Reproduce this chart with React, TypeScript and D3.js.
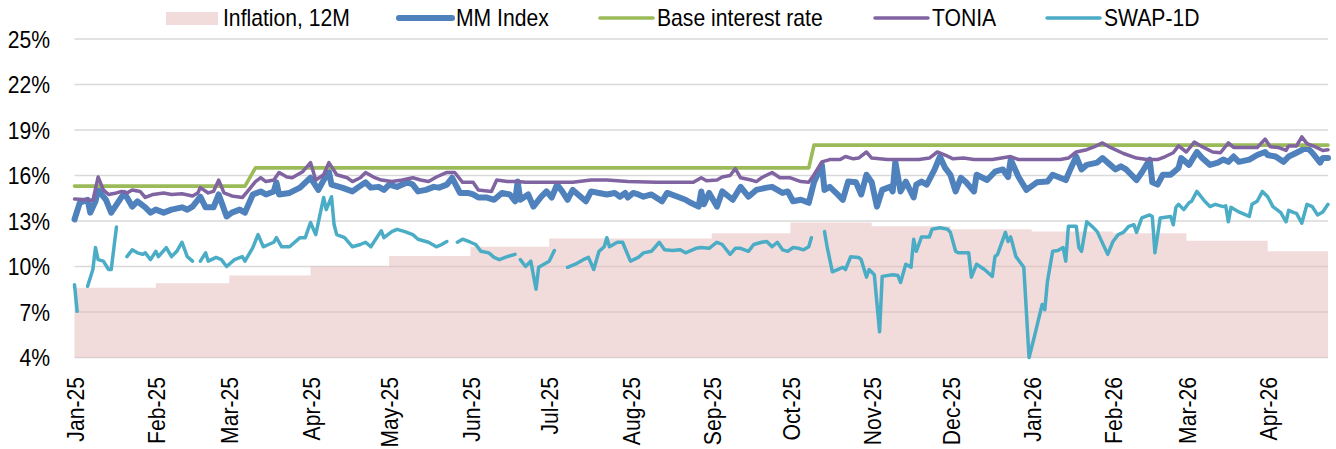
import { useEffect } from "react";
import * as d3 from "d3";

const W = 1336;
const H = 449;
const PLOT = { left: 74.5, right: 1328, top: 39, bottom: 357.5 };
const FONT = '"Liberation Sans", Arial, sans-serif';
const FONT_SIZE = 23;
const SQUEEZE = 0.92; // the source font is a little narrower than Arial

const COLORS = {
  inflation: "#e6b9b8",
  mm: "#4f81bd",
  base: "#9bbb59",
  tonia: "#8064a2",
  swap: "#4bacc6",
  grid: "#d9d9d9",
  text: "#000000",
};

const START = "2025-01-01";
const END = "2026-04-24";
const Y_TICKS = [4, 7, 10, 13, 16, 19, 22, 25];

// monthly CPI, 12M (value holds for the whole month)
const INFLATION_MONTHS = [
  "2025-01", "2025-02", "2025-03", "2025-04", "2025-05", "2025-06", "2025-07", "2025-08",
  "2025-09", "2025-10", "2025-11", "2025-12", "2026-01", "2026-02", "2026-03", "2026-04",
];
const INFLATION = [8.6, 8.9, 9.4, 10.0, 10.7, 11.3, 11.85, 11.85, 12.2, 12.9, 12.65, 12.45, 12.3, 12.2, 11.7, 11.0];

const BASE_RATE: [string, number][] = [
  ["2025-01-01", 15.3], ["2025-03-07", 15.3], ["2025-03-11", 16.5],
  ["2025-10-08", 16.5], ["2025-10-10", 18], ["2026-04-24", 18],
];

const MM_INDEX: [string, number][] = [
  ["2025-01-01", 13.1], ["2025-01-03", 14.2], ["2025-01-06", 14.4], ["2025-01-07", 13.55], ["2025-01-09", 14.3], ["2025-01-10", 15.05], ["2025-01-13", 14.4], ["2025-01-15", 13.55], ["2025-01-20", 14.85], ["2025-01-23", 13.95], ["2025-01-25", 14.3], ["2025-01-28", 13.9], ["2025-01-30", 13.55],
  ["2025-02-01", 13.75], ["2025-02-04", 13.55], ["2025-02-07", 13.75], ["2025-02-11", 13.9], ["2025-02-13", 13.75], ["2025-02-15", 13.95], ["2025-02-18", 14.6], ["2025-02-20", 13.9], ["2025-02-23", 13.9], ["2025-02-25", 14.75], ["2025-02-28", 13.3],
  ["2025-03-02", 13.55], ["2025-03-05", 13.75], ["2025-03-07", 13.55], ["2025-03-10", 14.75], ["2025-03-13", 14.95], ["2025-03-15", 14.75], ["2025-03-18", 14.95], ["2025-03-19", 15.55], ["2025-03-20", 14.75], ["2025-03-24", 14.85], ["2025-03-28", 15.2], ["2025-03-31", 15.7],
  ["2025-04-01", 15.85], ["2025-04-04", 15.05], ["2025-04-06", 15.7], ["2025-04-08", 16.25], ["2025-04-09", 15.4], ["2025-04-13", 15.2], ["2025-04-17", 14.95], ["2025-04-19", 15.2], ["2025-04-22", 15.55], ["2025-04-24", 15.2], ["2025-04-27", 15.25], ["2025-04-29", 15.05],
  ["2025-05-01", 15.4], ["2025-05-04", 15.25], ["2025-05-08", 15.55], ["2025-05-10", 15.4], ["2025-05-12", 14.95], ["2025-05-15", 15.05], ["2025-05-18", 15.25], ["2025-05-20", 15.2], ["2025-05-23", 15.4], ["2025-05-25", 15.85], ["2025-05-28", 14.85], ["2025-05-31", 14.85],
  ["2025-06-02", 14.75], ["2025-06-04", 14.55], ["2025-06-07", 14.55], ["2025-06-10", 14.4], ["2025-06-13", 14.85], ["2025-06-16", 14.75], ["2025-06-18", 14.3], ["2025-06-19", 15.6], ["2025-06-20", 14.4], ["2025-06-23", 14.75], ["2025-06-25", 13.95], ["2025-06-28", 14.6], ["2025-06-30", 14.95],
  ["2025-07-02", 14.55], ["2025-07-04", 15.4], ["2025-07-06", 14.95], ["2025-07-08", 14.4], ["2025-07-10", 15.05], ["2025-07-13", 14.6], ["2025-07-15", 14.3], ["2025-07-17", 14.95], ["2025-07-20", 14.85], ["2025-07-23", 14.75], ["2025-07-26", 14.85], ["2025-07-28", 14.6], ["2025-07-30", 14.85], ["2025-07-31", 14.55],
  ["2025-08-02", 14.85], ["2025-08-04", 14.75], ["2025-08-06", 14.6], ["2025-08-09", 14.75], ["2025-08-13", 14.3], ["2025-08-15", 14.85], ["2025-08-19", 14.6], ["2025-08-22", 14.4], ["2025-08-24", 14.2], ["2025-08-27", 13.95], ["2025-08-28", 14.95], ["2025-08-29", 14.1], ["2025-08-31", 14.85],
  ["2025-09-03", 13.95], ["2025-09-05", 14.95], ["2025-09-09", 14.4], ["2025-09-12", 15.25], ["2025-09-15", 14.6], ["2025-09-18", 15.05], ["2025-09-22", 15.2], ["2025-09-24", 15.25], ["2025-09-28", 14.85], ["2025-09-30", 14.95],
  ["2025-10-02", 14.3], ["2025-10-05", 14.4], ["2025-10-08", 14.2], ["2025-10-10", 15.55], ["2025-10-13", 16.7], ["2025-10-14", 15.05], ["2025-10-16", 15.25], ["2025-10-19", 14.75], ["2025-10-21", 14.4], ["2025-10-23", 15.6], ["2025-10-26", 15.55], ["2025-10-28", 14.75], ["2025-10-30", 16.05],
  ["2025-11-01", 15.55], ["2025-11-03", 13.95], ["2025-11-05", 15.05], ["2025-11-08", 15.25], ["2025-11-09", 14.95], ["2025-11-10", 16.9], ["2025-11-12", 14.95], ["2025-11-14", 15.6], ["2025-11-17", 14.55], ["2025-11-18", 15.4], ["2025-11-20", 15.6], ["2025-11-22", 15.4], ["2025-11-25", 16.4], ["2025-11-27", 17.25], ["2025-11-29", 16.5],
  ["2025-12-01", 16.05], ["2025-12-03", 14.95], ["2025-12-05", 15.85], ["2025-12-07", 15.55], ["2025-12-10", 14.95], ["2025-12-11", 16.05], ["2025-12-15", 15.7], ["2025-12-18", 16.25], ["2025-12-21", 16.4], ["2025-12-23", 15.9], ["2025-12-24", 17.05], ["2025-12-27", 15.9], ["2025-12-30", 15.05],
  ["2026-01-03", 15.55], ["2026-01-07", 15.6], ["2026-01-09", 16.05], ["2026-01-14", 15.7], ["2026-01-16", 16.5], ["2026-01-18", 17.25], ["2026-01-20", 16.4], ["2026-01-22", 16.7], ["2026-01-26", 16.85], ["2026-01-28", 17.15], ["2026-01-31", 16.7],
  ["2026-02-02", 16.4], ["2026-02-04", 16.6], ["2026-02-06", 16.4], ["2026-02-10", 15.7], ["2026-02-12", 16.2], ["2026-02-15", 17.05], ["2026-02-16", 15.55], ["2026-02-18", 15.4], ["2026-02-20", 16.05], ["2026-02-23", 16.05], ["2026-02-26", 16.5], ["2026-02-27", 17.15],
  ["2026-03-02", 16.7], ["2026-03-05", 17.55], ["2026-03-07", 17.15], ["2026-03-10", 16.7], ["2026-03-13", 16.85], ["2026-03-15", 17.05], ["2026-03-17", 16.9], ["2026-03-19", 17.25], ["2026-03-21", 16.9], ["2026-03-25", 17.05], ["2026-03-28", 17.35], ["2026-03-31", 17.55],
  ["2026-04-01", 17.35], ["2026-04-04", 17.25], ["2026-04-07", 16.9], ["2026-04-09", 17.25], ["2026-04-12", 17.5], ["2026-04-16", 17.85], ["2026-04-18", 17.5], ["2026-04-21", 16.85], ["2026-04-22", 17.15], ["2026-04-24", 17.15],
];

const TONIA: [string, number][] = [
  ["2025-01-01", 14.45], ["2025-01-06", 14.4], ["2025-01-08", 14.35], ["2025-01-10", 15.9], ["2025-01-12", 15.05], ["2025-01-14", 14.75], ["2025-01-17", 14.85], ["2025-01-19", 14.95], ["2025-01-21", 14.85], ["2025-01-23", 15.05], ["2025-01-26", 14.95], ["2025-01-28", 14.55], ["2025-01-31", 14.75],
  ["2025-02-04", 14.85], ["2025-02-07", 14.75], ["2025-02-11", 14.8], ["2025-02-15", 14.65], ["2025-02-17", 14.85], ["2025-02-18", 15.2], ["2025-02-21", 14.85], ["2025-02-23", 14.95], ["2025-02-25", 15.7], ["2025-02-27", 14.85],
  ["2025-03-02", 14.65], ["2025-03-06", 14.55], ["2025-03-08", 14.95], ["2025-03-11", 15.6], ["2025-03-13", 15.85], ["2025-03-15", 15.6], ["2025-03-18", 15.7], ["2025-03-20", 16.2], ["2025-03-23", 15.9], ["2025-03-25", 15.85], ["2025-03-29", 16.25],
  ["2025-04-01", 16.85], ["2025-04-03", 15.7], ["2025-04-06", 16.05], ["2025-04-08", 16.85], ["2025-04-11", 16.05], ["2025-04-15", 15.85], ["2025-04-17", 15.6], ["2025-04-20", 15.85], ["2025-04-22", 16.2], ["2025-04-25", 15.9], ["2025-04-28", 15.7],
  ["2025-05-02", 15.6], ["2025-05-06", 15.7], ["2025-05-10", 15.85], ["2025-05-13", 15.7], ["2025-05-16", 15.6], ["2025-05-19", 15.9], ["2025-05-23", 16.2], ["2025-05-26", 16.2], ["2025-05-29", 15.55],
  ["2025-06-02", 15.55], ["2025-06-04", 15.05], ["2025-06-09", 14.95], ["2025-06-11", 15.7], ["2025-06-15", 15.6], ["2025-06-19", 15.6], ["2025-06-22", 15.55],
  ["2025-07-01", 15.55], ["2025-07-10", 15.55], ["2025-07-17", 15.7], ["2025-07-23", 15.7], ["2025-07-31", 15.6],
  ["2025-08-11", 15.55], ["2025-08-25", 15.55], ["2025-08-28", 15.85], ["2025-08-30", 15.65],
  ["2025-09-03", 15.7], ["2025-09-05", 15.9], ["2025-09-08", 16.0], ["2025-09-10", 16.45], ["2025-09-12", 15.85], ["2025-09-16", 15.7], ["2025-09-18", 15.6], ["2025-09-20", 15.85], ["2025-09-24", 16.2], ["2025-09-27", 15.85],
  ["2025-10-01", 15.85], ["2025-10-05", 15.6], ["2025-10-08", 15.55], ["2025-10-10", 16.05], ["2025-10-13", 16.9], ["2025-10-16", 17.05], ["2025-10-20", 17.05], ["2025-10-22", 17.25], ["2025-10-25", 17.1], ["2025-10-27", 17.15], ["2025-10-30", 17.55],
  ["2025-11-01", 17.15], ["2025-11-07", 17.05], ["2025-11-12", 17.05], ["2025-11-19", 17.05], ["2025-11-23", 17.15], ["2025-11-26", 17.55], ["2025-11-29", 17.35],
  ["2025-12-02", 17.1], ["2025-12-06", 17.15], ["2025-12-10", 17.05], ["2025-12-17", 17.05], ["2025-12-24", 17.25], ["2025-12-27", 17.05],
  ["2026-01-04", 17.05], ["2026-01-12", 17.05], ["2026-01-15", 17.15], ["2026-01-18", 17.55], ["2026-01-22", 17.7], ["2026-01-25", 17.9], ["2026-01-28", 18.15], ["2026-01-31", 17.85],
  ["2026-02-05", 17.45], ["2026-02-10", 17.15], ["2026-02-14", 17.05], ["2026-02-18", 17.05], ["2026-02-21", 17.25], ["2026-02-24", 17.5], ["2026-02-26", 17.95],
  ["2026-03-01", 17.55], ["2026-03-04", 18.2], ["2026-03-07", 17.9], ["2026-03-11", 17.55], ["2026-03-14", 17.5], ["2026-03-17", 18.15], ["2026-03-19", 17.85], ["2026-03-24", 17.85], ["2026-03-28", 17.85], ["2026-03-31", 18.4],
  ["2026-04-02", 17.9], ["2026-04-05", 17.85], ["2026-04-08", 17.65], ["2026-04-09", 17.95], ["2026-04-12", 17.95], ["2026-04-14", 18.55], ["2026-04-16", 18.1], ["2026-04-19", 17.9], ["2026-04-22", 17.65], ["2026-04-24", 17.7],
];

// null = no quote (gap in the line)
const SWAP_1D: [string, number | null][] = [
  ["2025-01-01", 8.8], ["2025-01-02", 7.05], ["2025-01-04", null],
  ["2025-01-06", 8.7], ["2025-01-08", 9.8], ["2025-01-09", 11.25], ["2025-01-10", 10.45], ["2025-01-12", 10.35], ["2025-01-14", 9.8], ["2025-01-15", 9.8], ["2025-01-17", 12.6], ["2025-01-19", null],
  ["2025-01-21", 10.65], ["2025-01-23", 11.1], ["2025-01-25", 10.9], ["2025-01-27", 10.8], ["2025-01-28", 10.9], ["2025-01-30", 10.45], ["2025-02-01", 11.0], ["2025-02-02", 10.65], ["2025-02-05", 11.25], ["2025-02-07", 10.65], ["2025-02-09", 11.0], ["2025-02-11", 11.6], ["2025-02-13", 10.65], ["2025-02-15", 10.35], ["2025-02-16", null],
  ["2025-02-18", 10.35], ["2025-02-20", 10.9], ["2025-02-21", 10.35], ["2025-02-24", 10.6], ["2025-02-26", 10.45], ["2025-02-28", 10.0], ["2025-03-03", 10.45], ["2025-03-06", 10.65], ["2025-03-07", 10.35], ["2025-03-10", 11.25], ["2025-03-12", 12.1], ["2025-03-14", 11.3], ["2025-03-16", 11.45], ["2025-03-18", 11.6], ["2025-03-19", 11.9], ["2025-03-21", 11.3], ["2025-03-24", 11.3], ["2025-03-28", 11.9], ["2025-03-30", 11.9],
  ["2025-04-01", 12.9], ["2025-04-03", 12.1], ["2025-04-06", 14.55], ["2025-04-07", 13.75], ["2025-04-09", 14.6], ["2025-04-10", 12.75], ["2025-04-11", 12.1], ["2025-04-14", 11.9], ["2025-04-17", 11.3], ["2025-04-20", 11.45], ["2025-04-22", 11.6], ["2025-04-24", 11.3], ["2025-04-27", 12.1], ["2025-04-28", 12.35], ["2025-04-29", 11.9],
  ["2025-05-02", 12.3], ["2025-05-04", 12.45], ["2025-05-07", 12.3], ["2025-05-10", 12.1], ["2025-05-12", 11.8], ["2025-05-14", 11.7], ["2025-05-16", 11.6], ["2025-05-19", 11.3], ["2025-05-21", 11.45], ["2025-05-23", 11.65], ["2025-05-25", null],
  ["2025-05-27", 11.6], ["2025-05-29", 11.8], ["2025-06-01", 11.6], ["2025-06-03", 11.45], ["2025-06-05", 11.0], ["2025-06-08", 10.9], ["2025-06-10", 10.6], ["2025-06-12", 10.45], ["2025-06-15", 10.65], ["2025-06-18", 10.8], ["2025-06-19", null],
  ["2025-06-20", 10.45], ["2025-06-22", 10.0], ["2025-06-24", 10.35], ["2025-06-26", 8.5], ["2025-06-27", 9.95], ["2025-06-30", 10.25], ["2025-07-01", 10.35], ["2025-07-03", 11.05], ["2025-07-05", null],
  ["2025-07-08", 9.95], ["2025-07-11", 10.15], ["2025-07-14", 10.45], ["2025-07-16", 10.6], ["2025-07-18", 9.8], ["2025-07-20", 11.0], ["2025-07-22", 11.3], ["2025-07-23", 11.9], ["2025-07-24", 11.3], ["2025-07-27", 11.6], ["2025-07-29", 11.6],
  ["2025-08-01", 10.35], ["2025-08-04", 10.6], ["2025-08-06", 10.9], ["2025-08-09", 11.0], ["2025-08-12", 11.6], ["2025-08-14", 11.1], ["2025-08-17", 11.05], ["2025-08-20", 11.1], ["2025-08-22", 10.9], ["2025-08-24", 11.05], ["2025-08-26", 11.2], ["2025-08-28", 11.25], ["2025-08-31", 11.2],
  ["2025-09-03", 11.6], ["2025-09-05", 11.45], ["2025-09-08", 10.8], ["2025-09-10", 11.2], ["2025-09-12", 11.2], ["2025-09-15", 11.0], ["2025-09-17", 11.45], ["2025-09-20", 11.6], ["2025-09-22", 11.65], ["2025-09-24", 11.3], ["2025-09-26", 11.6], ["2025-09-28", 11.1], ["2025-09-30", 11.0],
  ["2025-10-02", 11.25], ["2025-10-04", 11.2], ["2025-10-06", 11.1], ["2025-10-08", 11.3], ["2025-10-09", 11.9], ["2025-10-11", null],
  ["2025-10-14", 12.3], ["2025-10-15", 11.3], ["2025-10-17", 9.65], ["2025-10-19", 9.8], ["2025-10-21", 9.95], ["2025-10-22", 9.8], ["2025-10-24", 10.65], ["2025-10-27", 10.6], ["2025-10-28", 10.45], ["2025-10-30", 9.3], ["2025-10-31", 9.8],
  ["2025-11-02", 9.45], ["2025-11-04", 5.7], ["2025-11-05", 9.35], ["2025-11-09", 9.45], ["2025-11-11", 9.4], ["2025-11-12", 8.95], ["2025-11-14", 10.15], ["2025-11-16", 9.95], ["2025-11-17", 11.8], ["2025-11-18", 11.0], ["2025-11-20", 11.95], ["2025-11-23", 11.95], ["2025-11-24", 12.45], ["2025-11-27", 12.55], ["2025-11-30", 12.45],
  ["2025-12-01", 12.25], ["2025-12-03", 11.0], ["2025-12-04", 10.9], ["2025-12-08", 10.9], ["2025-12-09", 9.3], ["2025-12-11", 10.15], ["2025-12-14", 9.8], ["2025-12-17", 9.35], ["2025-12-18", 10.65], ["2025-12-19", 10.8], ["2025-12-22", 12.25], ["2025-12-23", 11.65], ["2025-12-24", 11.95], ["2025-12-26", 10.65], ["2025-12-29", 9.95], ["2025-12-31", 4.0],
  ["2026-01-02", 5.35], ["2026-01-05", 7.5], ["2026-01-06", 7.15], ["2026-01-07", 9.0], ["2026-01-09", 11.0], ["2026-01-11", 11.05], ["2026-01-13", 11.25], ["2026-01-14", 10.35], ["2026-01-15", 12.65], ["2026-01-18", 12.65], ["2026-01-19", 11.25], ["2026-01-20", 11.0], ["2026-01-22", 12.95], ["2026-01-24", 12.65], ["2026-01-26", 12.3], ["2026-01-30", 10.8],
  ["2026-02-01", 11.65], ["2026-02-03", 12.1], ["2026-02-05", 12.25], ["2026-02-07", 12.65], ["2026-02-09", 12.75], ["2026-02-10", 12.25], ["2026-02-12", 13.2], ["2026-02-15", 13.4], ["2026-02-16", 13.3], ["2026-02-17", 10.9], ["2026-02-19", 13.2], ["2026-02-23", 13.3], ["2026-02-24", 12.75], ["2026-02-25", 13.9], ["2026-02-26", 14.1], ["2026-02-28", 13.75],
  ["2026-03-02", 14.2], ["2026-03-03", 14.3], ["2026-03-05", 14.95], ["2026-03-08", 14.3], ["2026-03-10", 13.95], ["2026-03-12", 14.1], ["2026-03-15", 13.95], ["2026-03-16", 14.0], ["2026-03-17", 12.95], ["2026-03-18", 13.9], ["2026-03-21", 13.6], ["2026-03-25", 13.3], ["2026-03-26", 14.1], ["2026-03-28", 14.3], ["2026-03-30", 14.95],
  ["2026-04-01", 14.6], ["2026-04-03", 13.95], ["2026-04-06", 13.55], ["2026-04-08", 12.95], ["2026-04-09", 13.7], ["2026-04-11", 13.55], ["2026-04-12", 13.5], ["2026-04-14", 12.85], ["2026-04-16", 14.1], ["2026-04-18", 13.95], ["2026-04-20", 13.4], ["2026-04-22", 13.6], ["2026-04-24", 14.1],
];

const LEGEND = [
  { key: "inflation", label: "Inflation, 12M", x: 166 },
  { key: "mm", label: "MM Index", x: 399 },
  { key: "base", label: "Base interest rate", x: 600 },
  { key: "tonia", label: "TONIA", x: 875 },
  { key: "swap", label: "SWAP-1D", x: 1047 },
];

const parseDay = d3.utcParse("%Y-%m-%d");
const parseMonth = d3.utcParse("%Y-%m");
const fmtMonth = d3.utcFormat("%b-%y");

type Pt = { date: Date; value: number | null };
const toPts = (rows: [string, number | null][]): Pt[] =>
  rows.map(([d, v]) => ({ date: parseDay(d) as Date, value: v }));

export default function App() {
  useEffect(() => {
    document.body.style.margin = "0";
  }, []);

  const x = d3
    .scaleUtc()
    .domain([parseDay(START) as Date, parseDay(END) as Date])
    .range([PLOT.left, PLOT.right]);
  const y = d3.scaleLinear().domain([4, 25]).range([PLOT.bottom, PLOT.top]);

  const monthTicks = d3.utcMonth.range(parseDay(START) as Date, parseDay(END) as Date);

  const inflationPts: Pt[] = INFLATION_MONTHS.map((m, i) => ({
    date: parseMonth(m) as Date,
    value: INFLATION[i],
  }));
  inflationPts.push({ date: parseDay(END) as Date, value: INFLATION[INFLATION.length - 1] });

  const area = d3
    .area<Pt>()
    .x((p) => x(p.date))
    .y0(y(4))
    .y1((p) => y(p.value as number))
    .curve(d3.curveStepAfter);

  const line = d3
    .line<Pt>()
    .defined((p) => p.value != null)
    .x((p) => x(p.date))
    .y((p) => y(p.value as number));

  const series = [
    { key: "mm", data: toPts(MM_INDEX), color: COLORS.mm, width: 6 },
    { key: "base", data: toPts(BASE_RATE), color: COLORS.base, width: 3.6 },
    { key: "tonia", data: toPts(TONIA), color: COLORS.tonia, width: 3.5 },
    { key: "swap", data: toPts(SWAP_1D), color: COLORS.swap, width: 3.5 },
  ];
  const styleOf = (key: string) => series.find((s) => s.key === key)!;

  return (
    <svg width={W} height={H} style={{ display: "block" }} fontFamily={FONT}>
      <rect width={W} height={H} fill="#fff" />

      {Y_TICKS.map((t) => (
        <line key={t} x1={PLOT.left} x2={PLOT.right} y1={y(t)} y2={y(t)} stroke={COLORS.grid} strokeWidth={1.3} />
      ))}

      <path d={area(inflationPts) ?? ""} fill={COLORS.inflation} fillOpacity={0.5} />

      {series.map((s) => (
        <path
          key={s.key}
          d={line(s.data) ?? ""}
          fill="none"
          stroke={s.color}
          strokeWidth={s.width}
          strokeLinejoin="round"
          strokeLinecap="round"
        />
      ))}

      {Y_TICKS.map((t) => (
        <text
          key={t}
          transform={`translate(50,${y(t)}) scale(${SQUEEZE},1)`}
          dy="0.38em"
          textAnchor="end"
          fontSize={FONT_SIZE}
          fill={COLORS.text}
        >
          {t}%
        </text>
      ))}

      {monthTicks.map((m) => (
        <text
          key={m.getTime()}
          transform={`translate(${x(m)},377) rotate(-90) scale(${SQUEEZE},1)`}
          dy="0.4em"
          textAnchor="end"
          fontSize={FONT_SIZE}
          fill={COLORS.text}
        >
          {fmtMonth(m)}
        </text>
      ))}

      {LEGEND.map((item) => {
        const s = item.key === "inflation" ? null : styleOf(item.key);
        return (
          <g key={item.key}>
            {s ? (
              <line
                x1={item.x}
                x2={item.x + 53}
                y1={18}
                y2={18}
                stroke={s.color}
                strokeWidth={s.width}
                strokeLinecap="round"
              />
            ) : (
              <rect x={item.x} y={12} width={52} height={13} fill={COLORS.inflation} fillOpacity={0.5} />
            )}
            <text
              transform={`translate(${item.x + 57},26) scale(${SQUEEZE},1)`}
              fontSize={FONT_SIZE}
              fill={COLORS.text}
            >
              {item.label}
            </text>
          </g>
        );
      })}
    </svg>
  );
}
